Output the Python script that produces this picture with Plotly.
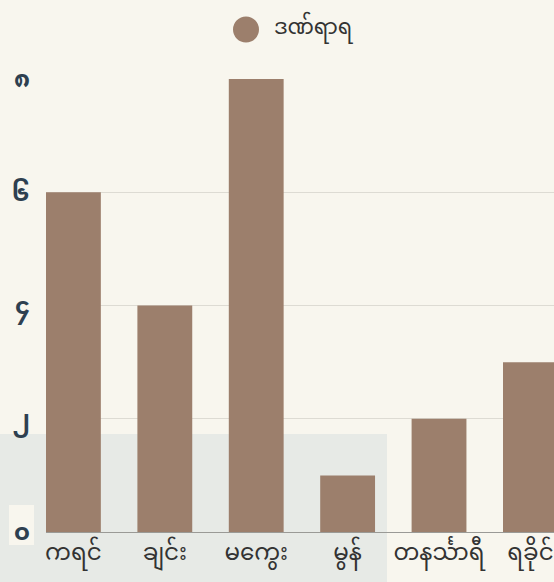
import plotly.graph_objects as go

categories = ["ကရင်", "ချင်း", "မကွေး", "မွန်", "တနင်္သာရီ", "ရခိုင်"]
injured = [6, 4, 8, 1, 2, 3]
series_name = "ဒဏ်ရာရ"
y_tick_values = [0, 2, 4, 6, 8]
y_tick_labels = ["၀", "၂", "၄", "၆", "၈"]

W, H = 554, 582
ML, MR, MT, MB = 46, 0, 79, 50
BAR_COLOR = "#9c7f6c"
MM_FONT = "Noto Sans Myanmar, Padauk, Myanmar Text, sans-serif"

fig = go.Figure()
fig.add_trace(go.Bar(
    x=list(range(len(categories))),
    y=injured,
    name=series_name,
    marker=dict(color=BAR_COLOR, line=dict(width=0)),
    showlegend=False,
))

def px_x(px):
    return (px - ML) / (W - ML - MR)

def px_y(py):
    return (H - MB - py) / (H - MT - MB)

shapes = [
    dict(type="rect", xref="paper", yref="paper", layer="below",
         x0=px_x(0), x1=px_x(387), y0=px_y(582), y1=px_y(434),
         fillcolor="#e7eae6", line=dict(width=0)),
    dict(type="rect", xref="paper", yref="paper", layer="below",
         x0=px_x(9), x1=px_x(34), y0=px_y(545), y1=px_y(505),
         fillcolor="#f8f6ee", line=dict(width=0)),
    # legend marker
    dict(type="circle", xref="paper", yref="paper",
         x0=px_x(233), x1=px_x(259), y0=px_y(42.5), y1=px_y(16.5),
         fillcolor=BAR_COLOR, line=dict(width=0)),
]

annotations = [
    dict(text=series_name, xref="paper", yref="paper", x=px_x(272), y=px_y(29),
         xanchor="left", yanchor="middle", showarrow=False,
         font=dict(size=21, color="#333333", family=MM_FONT)),
]

fig.update_layout(
    width=W, height=H,
    margin=dict(l=ML, r=MR, t=MT, b=MB, autoexpand=False),
    paper_bgcolor="#f8f6ee",
    plot_bgcolor="rgba(0,0,0,0)",
    bargap=0.4,
    showlegend=False,
    xaxis=dict(
        range=[-0.3, 5.258],
        tickmode="array",
        tickvals=list(range(len(categories))),
        ticktext=categories,
        showgrid=False,
        showline=False,
        zeroline=False,
        ticks="",
        ticklabelstandoff=4,
        ticklabeloverflow="allow",
        tickfont=dict(size=23, color="#333333", family=MM_FONT),
    ),
    yaxis=dict(
        range=[0, 8],
        tickmode="array",
        tickvals=y_tick_values,
        ticktext=y_tick_labels,
        showgrid=True,
        gridcolor="#dddbd3",
        gridwidth=1,
        zeroline=True,
        zerolinecolor="#9a9a96",
        zerolinewidth=1,
        showline=False,
        ticks="",
        ticklabelstandoff=15,
        tickfont=dict(size=24, color="#2e4050", family=MM_FONT, weight="bold"),
    ),
    shapes=shapes,
    annotations=annotations,
)

fig.write_html(
    "out.html",
    config={"displayModeBar": False},
    post_script="document.body.style.margin='0';document.body.style.overflow='hidden';",
)
